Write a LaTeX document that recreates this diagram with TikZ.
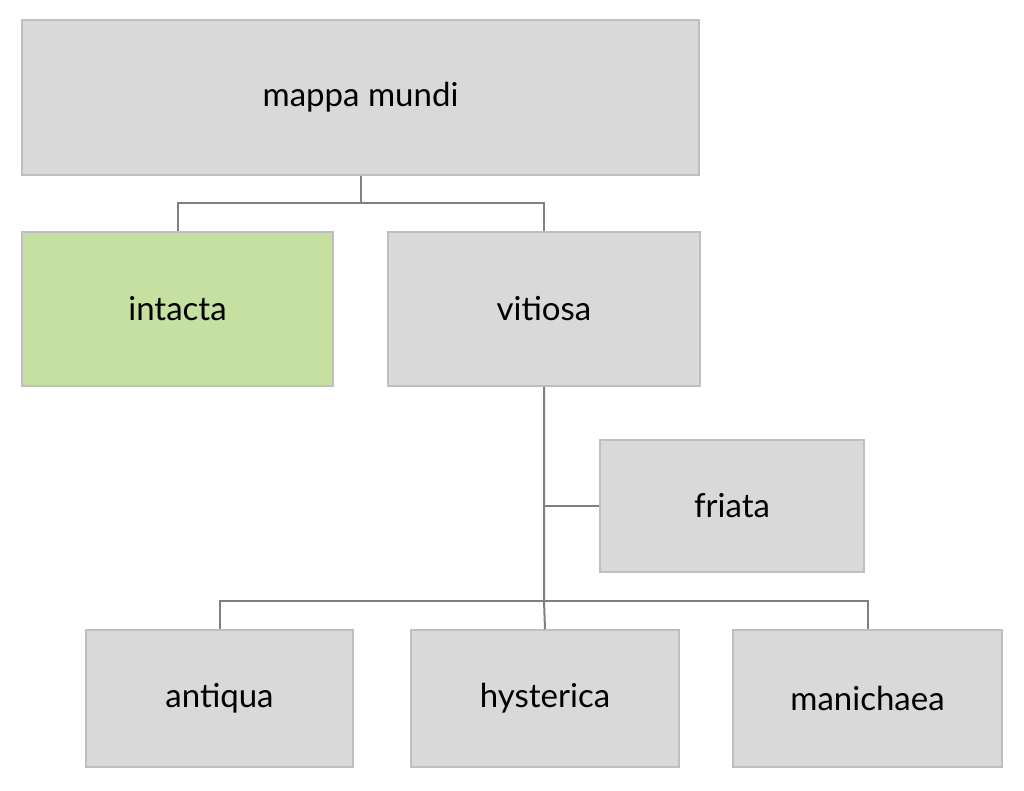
\documentclass[tikz,border=0pt]{standalone}
\usepackage{fontspec}
\setmainfont{Lato}
\definecolor{boxgray}{HTML}{D9D9D9}
\definecolor{boxedge}{HTML}{BFBFBF}
\definecolor{boxgreen}{HTML}{C5E0A0}
\definecolor{linegray}{HTML}{808080}
\begin{document}
\begin{tikzpicture}[x=1pt,y=-1pt,
  box/.style={draw=boxedge,line width=1.5pt,fill=boxgray,font=\fontsize{33}{40}\selectfont},
  conn/.style={draw=linegray,line width=2pt}]
\useasboundingbox (0,0) rectangle (1024,791);
\newcommand{\bx}[6]{\path[box,fill=#6] (#2,#3) rectangle (#4,#5); \node[font=\fontsize{33}{40}\selectfont] (#1) at ({(#2+#4)/2},{(#3+#5)/2}) [minimum width={#4-#2},minimum height={#5-#3}] {};}
\node[box,minimum width=677,minimum height=155,inner sep=0] (mm) at (360.5,97.5) {mappa mundi};
\node[box,fill=boxgreen,minimum width=311,minimum height=154,inner sep=0] (in) at (177.5,309) {intacta};
\node[box,minimum width=312,minimum height=154,inner sep=0] (vi) at (544,309) {vitiosa};
\node[box,minimum width=264,minimum height=132,inner sep=0] (fr) at (732,506) {friata};
\node[box,minimum width=267,minimum height=137,inner sep=0] (an) at (219.5,698.5) {antiqua};
\node[box,minimum width=268,minimum height=137,inner sep=0] (hy) at (545,698.5) {hysterica};
\node[box,minimum width=269,minimum height=137,inner sep=0] (ma) at (867.5,698.5) {manichaea};
\coordinate (j1) at (360.5,203);
\coordinate (j2) at (544,601);
\coordinate (j3) at (544,506);
\draw[conn] (mm.south) -- (j1);
\draw[conn] (in.north) |- (j1) -| (vi.north);
\draw[conn] (vi.south) -- (j2) -- (hy.north);
\draw[conn] (j3) -- (fr.west);
\draw[conn] (an.north) |- (j2) -| (ma.north);
\end{tikzpicture}
\end{document}
